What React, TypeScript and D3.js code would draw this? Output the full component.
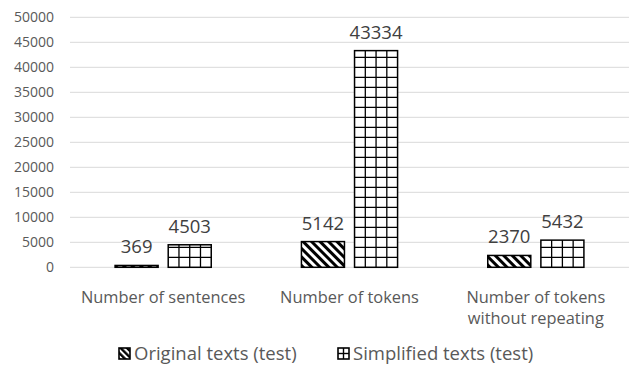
import React from 'react';
import * as d3 from 'd3';

const categories = ['Number of sentences', 'Number of tokens', 'Number of tokens|without repeating'];
const seriesNames = ['Original texts (test)', 'Simplified texts (test)'];
const originalValues = [369, 5142, 2370];
const simplifiedValues = [4503, 43334, 5432];
const yTicks = [0, 5000, 10000, 15000, 20000, 25000, 30000, 35000, 40000, 45000, 50000];

const W = 630;
const H = 365;
const font = "'Open Sans', 'Segoe UI', sans-serif";
const grey = '#595959';

const App: React.FC = () => {
  const x0 = d3.scaleBand<string>().domain(categories).range([70, 629]).paddingInner(0.484).paddingOuter(0.242);
  const x1 = d3.scaleBand<string>().domain(seriesNames).range([0, x0.bandwidth()]).paddingInner(0.19);
  const y = d3.scaleLinear().domain([0, 50000]).range([267.3, 17.3]);

  const bars = categories.flatMap((c, i) => [
    { c, s: seriesNames[0], v: originalValues[i] },
    { c, s: seriesNames[1], v: simplifiedValues[i] },
  ]);

  const gridLines = (bx: number, by: number, bw: number, bh: number) => {
    const lines: JSX.Element[] = [];
    for (let k = 1; k < 4; k++) {
      const lx = bx + (bw * k) / 4;
      lines.push(<line key={'v' + k} x1={lx} x2={lx} y1={by} y2={by + bh} stroke="#000" strokeWidth={1.3} />);
    }
    for (let yy = by + bh - 10; yy > by + 1; yy -= 10) {
      lines.push(<line key={'h' + yy} x1={bx} x2={bx + bw} y1={yy} y2={yy} stroke="#000" strokeWidth={1.3} />);
    }
    return lines;
  };

  return (
    <svg width={W} height={H} style={{ position: 'absolute', left: 0, top: 0, background: '#fff' }} fontFamily={font}>
      <defs>
        <pattern id="hatch" patternUnits="userSpaceOnUse" width={6} height={6} patternTransform="rotate(-45)">
          <rect width={6} height={6} fill="#fff" />
          <line x1={1.5} x2={1.5} y1={0} y2={6} stroke="#000" strokeWidth={3} />
        </pattern>
        <pattern id="hatchSmall" patternUnits="userSpaceOnUse" width={4.5} height={4.5} patternTransform="rotate(-45)">
          <rect width={4.5} height={4.5} fill="#fff" />
          <line x1={1.2} x2={1.2} y1={0} y2={4.5} stroke="#000" strokeWidth={2.4} />
        </pattern>
      </defs>
      <rect width={W} height={H} fill="#fff" />
      {yTicks.map((t) => (
        <g key={t}>
          <line x1={70} x2={629} y1={y(t)} y2={y(t)} stroke="#d9d9d9" strokeWidth={1} />
          <text x={54} y={y(t)} dy="0.35em" textAnchor="end" fontSize={14} fill={grey}>{t}</text>
        </g>
      ))}
      {bars.map((b) => {
        const bx = (x0(b.c) ?? 0) + (x1(b.s) ?? 0);
        const bw = x1.bandwidth();
        const by = y(b.v);
        const bh = y(0) - by;
        const isOrig = b.s === seriesNames[0];
        return (
          <g key={b.c + b.s}>
            <rect x={bx} y={by} width={bw} height={bh} fill={isOrig ? 'url(#hatch)' : '#fff'} />
            {!isOrig && gridLines(bx, by, bw, bh)}
            <rect x={bx} y={by} width={bw} height={bh} fill="none" stroke="#000" strokeWidth={1.5} />
            <text x={bx + bw / 2} y={by - 12} textAnchor="middle" fontSize={18.5} fill="#404040">{b.v}</text>
          </g>
        );
      })}
      {categories.map((c) => {
        const cx = (x0(c) ?? 0) + x0.bandwidth() / 2;
        return (
          <text key={c} x={cx} y={297} textAnchor="middle" fontSize={16.4} fill={grey}>
            {c.split('|').map((ln, i) => (
              <tspan key={i} x={cx} dy={i === 0 ? '0.35em' : 21}>{ln}</tspan>
            ))}
          </text>
        );
      })}
      {seriesNames.map((s, i) => {
        const lx = i === 0 ? 119 : 338;
        const ly = 348;
        return (
          <g key={s}>
            {i === 0 ? (
              <rect x={lx} y={ly} width={11} height={11} fill="url(#hatchSmall)" stroke="#000" strokeWidth={1.6} />
            ) : (
              <g>
                <rect x={lx} y={ly} width={11} height={11} fill="#fff" stroke="#000" strokeWidth={1.6} />
                <line x1={lx + 5.5} x2={lx + 5.5} y1={ly} y2={ly + 11} stroke="#000" strokeWidth={1.4} />
                <line x1={lx} x2={lx + 11} y1={ly + 5.5} y2={ly + 5.5} stroke="#000" strokeWidth={1.4} />
              </g>
            )}
            <text x={lx + 15} y={ly + 5.5} dy="0.35em" fontSize={18.5} fill={grey}>{s}</text>
          </g>
        );
      })}
    </svg>
  );
};

export default App;
